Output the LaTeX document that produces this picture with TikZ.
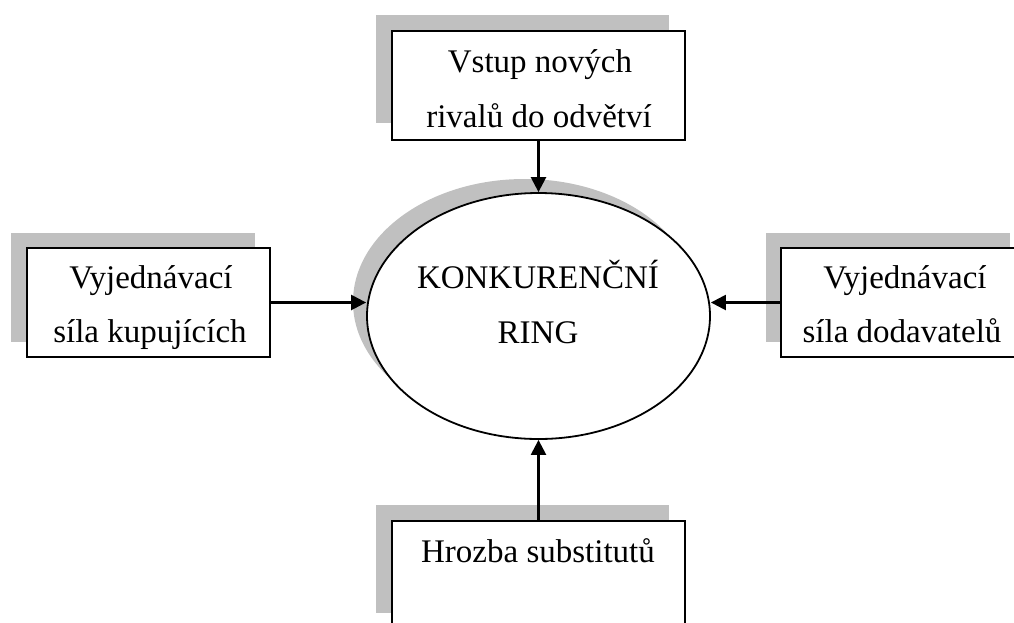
\documentclass[tikz,border=0pt]{standalone}
\usepackage{fontspec}
\setmainfont{Liberation Serif}
\usetikzlibrary{shapes.geometric,arrows.meta}
\definecolor{shadowgray}{HTML}{C0C0C0}
\tikzset{
  box/.style={draw=black, line width=1.8pt, fill=white, rectangle, inner sep=0pt},
  shadowbox/.style={fill=shadowgray, draw=none, rectangle, inner sep=0pt},
  lbl/.style={anchor=base, inner sep=0pt, font=\fontsize{33}{40}\selectfont},
  arr/.style={line width=2.4pt, -{Triangle[length=15pt,width=15pt]}},
}
\begin{document}
\begin{tikzpicture}[x=1pt,y=-1pt]
\useasboundingbox (0,0) rectangle (1014,622);
\clip (0,0) rectangle (1014,622);
% ellipse
\node[ellipse, fill=shadowgray, minimum width=343pt, minimum height=246pt, inner sep=0pt] (ellsh) at (524.5,302) {};
\node[ellipse, draw, line width=1.8pt, fill=white, minimum width=343pt, minimum height=246pt, inner sep=0pt] (ell) at (538.5,316) {};
\node[lbl] (t1) at (538,288) {KONKURENČNÍ};
\node[lbl] (t2) at (538,343) {RING};
% top box
\node[shadowbox, minimum width=293pt, minimum height=108pt] (topsh) at (522.5,69) {};
\node[box, minimum width=293pt, minimum height=109pt] (top) at (538.5,85.5) {};
\node[lbl] (top1) at (540,72) {Vstup nových};
\node[lbl] (top2) at (539,127) {rivalů do odvětví};
% left box
\node[shadowbox, minimum width=244pt, minimum height=109pt] (leftsh) at (133,287.5) {};
\node[box, minimum width=243pt, minimum height=109pt] (left) at (148.5,302.5) {};
\node[lbl] (left1) at (151,288) {Vyjednávací};
\node[lbl] (left2) at (150,342) {síla kupujících};
% right box
\node[shadowbox, minimum width=244pt, minimum height=109pt] (rightsh) at (888,287.5) {};
\node[box, minimum width=243pt, minimum height=109pt] (right) at (902.5,302.5) {};
\node[lbl] (right1) at (905,288) {Vyjednávací};
\node[lbl] (right2) at (902,342) {síla dodavatelů};
% bottom box
\node[shadowbox, minimum width=293pt, minimum height=108pt] (botsh) at (522.5,559) {};
\node[box, minimum width=293pt, minimum height=109pt] (bot) at (538.5,575.5) {};
\node[lbl] (bot1) at (538,562) {Hrozba substitutů};
% arrows
\draw[arr] (top.south) -- (ell.north);
\draw[arr] (left.east) -- (left.east -| ell.west);
\draw[arr] (right.west) -- (right.west -| ell.east);
\draw[arr] (bot.north) -- (ell.south);
\end{tikzpicture}
\end{document}
